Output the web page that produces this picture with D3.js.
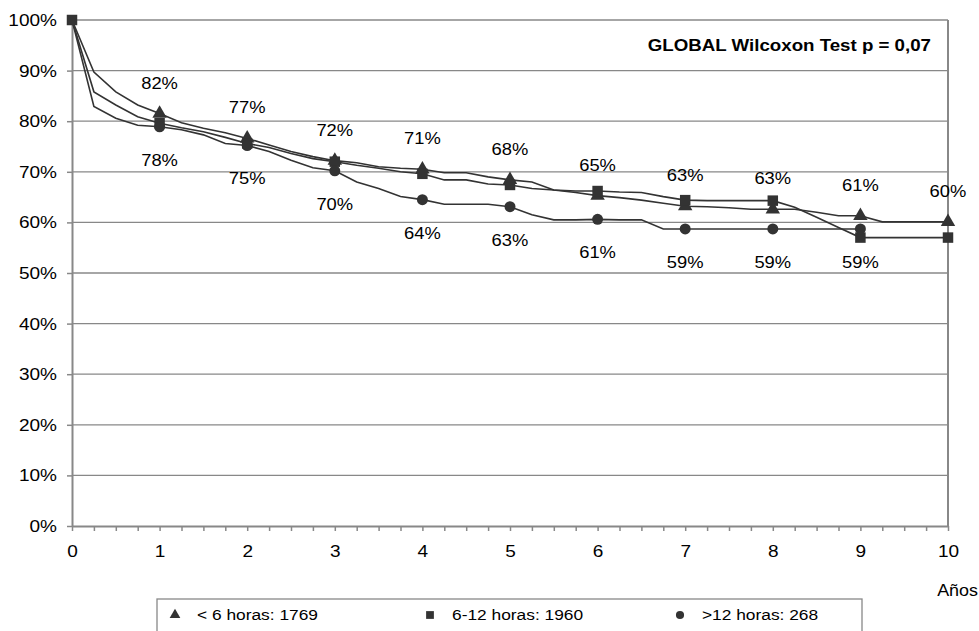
<!DOCTYPE html>
<html>
<head>
<meta charset="utf-8">
<script src="https://cdn.jsdelivr.net/npm/d3@7"></script>
<style>
	body { margin: 0; background: #fff; }
	svg { font-family: "Liberation Sans", Arial, sans-serif; }
</style>
</head>
<body>
<div id="chart"></div>
<script>
// time in years, one point per quarter
let years = [0, 0.25, 0.5, 0.75, 1, 1.25, 1.5, 1.75, 2, 2.25, 2.5, 2.75, 3, 3.25, 3.5, 3.75, 4, 4.25, 4.5, 4.75, 5,
	5.25, 5.5, 5.75, 6, 6.25, 6.5, 6.75, 7, 7.25, 7.5, 7.75, 8, 8.25, 8.5, 8.75, 9, 9.25, 9.5, 9.75, 10]

// survival (%)
let under6 = [100, 89.7, 85.8, 83.2, 81.5, 79.7, 78.6, 77.7, 76.6, 75.3, 74.0, 73.0, 72.2, 71.8, 71.0, 70.7, 70.5,
	69.8, 69.8, 69.0, 68.4, 68.0, 66.4, 65.9, 65.3, 64.9, 64.4, 63.8, 63.2, 63.1, 62.9, 62.6, 62.6, 62.6, 62.0, 61.3,
	61.3, 60.1, 60.1, 60.1, 60.1]
let from6to12 = [100, 85.8, 83.2, 80.9, 79.6, 78.7, 77.9, 76.8, 75.6, 74.8, 73.6, 72.6, 72.0, 71.3, 70.7, 70.0, 69.6,
	68.4, 68.4, 67.6, 67.4, 66.7, 66.4, 66.2, 66.2, 66.0, 65.9, 65.1, 64.4, 64.3, 64.3, 64.3, 64.3, 63.0, 61.0, 59.0,
	57.0, 57.0, 57.0, 57.0, 57.0]
let over12 = [100, 82.9, 80.6, 79.2, 78.9, 78.3, 77.3, 75.6, 75.2, 74.0, 72.3, 70.8, 70.2, 68.0, 66.7, 65.1, 64.5,
	63.6, 63.6, 63.6, 63.1, 61.5, 60.5, 60.5, 60.6, 60.5, 60.5, 58.7, 58.7, 58.7, 58.7, 58.7, 58.7, 58.7, 58.7, 58.7,
	58.7]

let markerYears = {
	under6: [1, 2, 3, 4, 5, 6, 7, 8, 9, 10],
	from6to12: [0, 1, 2, 3, 4, 5, 6, 7, 8, 9, 10],
	over12: [1, 2, 3, 4, 5, 6, 7, 8, 9]
}

let legendNames = ['< 6 horas: 1769', '6-12 horas: 1960', '>12 horas: 268']

// data labels: text above the <6h curve, below the >12h curve
let upperYears = [1, 2, 3, 4, 5, 6, 7, 8, 9, 10]
let upperText = [82, 77, 72, 71, 68, 65, 63, 63, 61, 60]
let lowerYears = [1, 2, 3, 4, 5, 6, 7, 8, 9]
let lowerText = [78, 75, 70, 64, 63, 61, 59, 59, 59]

let yTicks = [0, 10, 20, 30, 40, 50, 60, 70, 80, 90, 100]
let xTicks = [0, 1, 2, 3, 4, 5, 6, 7, 8, 9, 10]

let margin = {top: 20, right: 31, bottom: 105, left: 72},
	width = 979 - margin.left - margin.right,
	height = 631 - margin.top - margin.bottom

let svg = d3.select('#chart')
	.append('svg')
	.attr('width', 979)
	.attr('height', 631)

let g = svg.append('g')
	.attr('transform', 'translate(' + margin.left + ',' + margin.top + ')')

let x = d3.scaleLinear().domain([0, 10]).range([0, width])
let y = d3.scaleLinear().domain([0, 100]).range([height, 0])

let grey = '#888888'
let ink = '#333333'

// the original text is a bit wider than it is tall
function stretch(sel, sx, origin) {
	sel.style('transform-box', 'fill-box')
		.style('transform-origin', origin)
		.style('transform', 'scaleX(' + sx + ')')
}

// gridlines
g.selectAll('.grid')
	.data(yTicks.slice(1))
	.enter()
	.append('line')
	.attr('x1', 0)
	.attr('x2', width)
	.attr('y1', d => y(d))
	.attr('y2', d => y(d))
	.attr('stroke', grey)
	.attr('stroke-width', 1.3)

// right border
g.append('line')
	.attr('x1', width).attr('x2', width)
	.attr('y1', y(100)).attr('y2', y(0))
	.attr('stroke', grey).attr('stroke-width', 2)

// y axis
let yAxis = g.append('g')
	.call(d3.axisLeft(y).tickValues(yTicks).tickSize(5).tickSizeOuter(0).tickFormat(d => d + '%'))
yAxis.select('.domain').attr('stroke', grey).attr('stroke-width', 2)
yAxis.selectAll('.tick line').attr('stroke', grey).attr('stroke-width', 1.5)
yAxis.selectAll('.tick text').attr('font-size', 17).attr('fill', '#000').attr('x', -15)
	.attr('font-family', '"Liberation Sans", Arial, sans-serif')
	.call(stretch, 1.12, '100% 50%')

// x axis, minor ticks every quarter
let xAxis = g.append('g')
	.attr('transform', 'translate(0,' + height + ')')
	.call(d3.axisBottom(x).tickValues(years).tickSize(5).tickSizeOuter(0)
		.tickFormat(d => xTicks.includes(d) ? d : ''))
xAxis.select('.domain').attr('stroke', grey).attr('stroke-width', 2)
xAxis.selectAll('.tick line').attr('stroke', grey).attr('stroke-width', 1.5)
xAxis.selectAll('.tick text').attr('font-size', 17).attr('fill', '#000').attr('y', 19)
	.attr('font-family', '"Liberation Sans", Arial, sans-serif')
	.call(stretch, 1.12, '50% 50%')

g.append('text')
	.attr('x', width + 30)
	.attr('y', height + 70)
	.attr('text-anchor', 'end')
	.attr('font-size', 16)
	.text('Años')
	.call(stretch, 1.12, '100% 50%')

// lines
let line = d3.line()
	.x(d => x(d[0]))
	.y(d => y(d[1]))

let series = [
	{key: 'under6', values: under6, symbol: d3.symbolTriangle, size: 90},
	{key: 'from6to12', values: from6to12, symbol: d3.symbolSquare, size: 110},
	{key: 'over12', values: over12, symbol: d3.symbolCircle, size: 95}
]

series.forEach(function(s) {
	let pts = s.values.map((v, i) => [years[i], v])
	g.append('path')
		.datum(pts)
		.attr('fill', 'none')
		.attr('stroke', ink)
		.attr('stroke-width', 1.6)
		.attr('d', line)
})

series.forEach(function(s) {
	let pts = markerYears[s.key].map(yr => [yr, s.values[years.indexOf(yr)]])
	g.selectAll('.m-' + s.key)
		.data(pts)
		.enter()
		.append('path')
		.attr('d', d3.symbol().type(s.symbol).size(s.size))
		.attr('transform', d => 'translate(' + x(d[0]) + ',' + y(d[1]) + ')')
		.attr('fill', ink)
})

// data labels
function addLabels(yrs, texts, values, offset) {
	g.selectAll(null)
		.data(texts)
		.enter()
		.append('text')
		.attr('x', (d, i) => x(yrs[i]))
		.attr('y', (d, i) => y(values[years.indexOf(yrs[i])]) + offset)
		.attr('dy', '0.35em')
		.attr('text-anchor', 'middle')
		.attr('font-size', 17)
		.attr('fill', '#000')
		.text(d => d + '%')
		.call(stretch, 1.08, '50% 50%')
}
addLabels(upperYears, upperText, under6, -31)
addLabels(lowerYears, lowerText, over12, 33)

g.append('text')
	.attr('x', width - 17)
	.attr('y', 31)
	.attr('text-anchor', 'end')
	.attr('font-size', 17)
	.attr('font-weight', 'bold')
	.text('GLOBAL Wilcoxon Test p = 0,07')
	.call(stretch, 1.1, '100% 50%')

// legend
let legend = svg.append('g').attr('transform', 'translate(157,599)')
legend.append('rect')
	.attr('width', 705)
	.attr('height', 50)
	.attr('fill', '#fff')
	.attr('stroke', grey)
	.attr('stroke-width', 1.3)

let legendX = [18, 273, 523]
series.forEach(function(s, i) {
	legend.append('path')
		.attr('d', d3.symbol().type(s.symbol).size(s.size * 0.55))
		.attr('transform', 'translate(' + legendX[i] + ',16)')
		.attr('fill', ink)
	legend.append('text')
		.attr('x', legendX[i] + 22)
		.attr('y', 16)
		.attr('dy', '0.35em')
		.attr('font-size', 15.5)
		.text(legendNames[i])
		.call(stretch, 1.12, '0% 50%')
})
</script>
</body>
</html>
